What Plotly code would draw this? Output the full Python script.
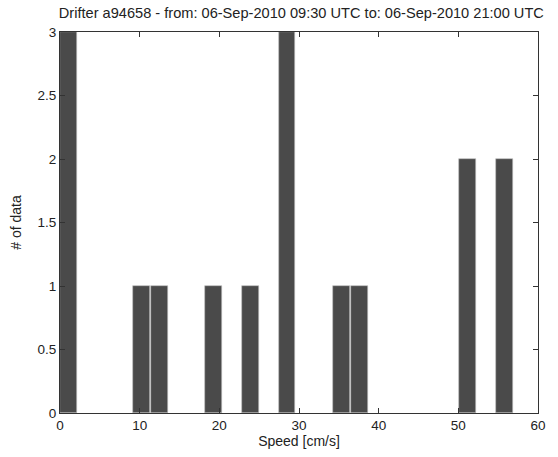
import plotly.graph_objects as go

# Bin centers (cm/s) and counts
speed_centers = [1.05, 10.2, 12.5, 19.3, 23.9, 28.5, 35.3, 37.55, 51.2, 55.8]
counts = [3, 1, 1, 1, 1, 3, 1, 1, 2, 2]

title_text = "Drifter a94658 - from: 06-Sep-2010 09:30 UTC to: 06-Sep-2010 21:00 UTC"
x_ticks = [0, 10, 20, 30, 40, 50, 60]
y_ticks = [0, 0.5, 1, 1.5, 2, 2.5, 3]

FONT = "Liberation Sans, Arial"

fig = go.Figure()
fig.add_trace(go.Bar(
    x=speed_centers, y=counts, width=2.12,
    marker=dict(color="#4a4a4a", line=dict(color="#bdbdbd", width=0.6)),
))

axis_common = dict(
    showgrid=False, zeroline=False, ticks="inside", ticklen=5,
    tickcolor="#333", showline=True, linecolor="#333", linewidth=1,
    mirror="ticks", tickfont=dict(family=FONT, size=13.5, color="#222"),
)
fig.update_layout(
    width=558, height=457,
    margin=dict(l=60, r=12, t=32, b=41),
    plot_bgcolor="white", paper_bgcolor="white",
    showlegend=False, bargap=0,
    title=dict(text=title_text, x=0.54, xanchor="center", y=0.972, yanchor="middle",
               font=dict(family=FONT, size=14.6, color="#222")),
    xaxis=dict(range=[0, 60], tickvals=x_ticks, **axis_common,
               title=dict(text="Speed [cm/s]", standoff=2,
                          font=dict(family=FONT, size=14, color="#222"))),
    yaxis=dict(range=[0, 3], tickvals=y_ticks, **axis_common,
               title=dict(text="# of data", standoff=12,
                          font=dict(family=FONT, size=14, color="#222"))),
)
fig.write_html("out.html")
